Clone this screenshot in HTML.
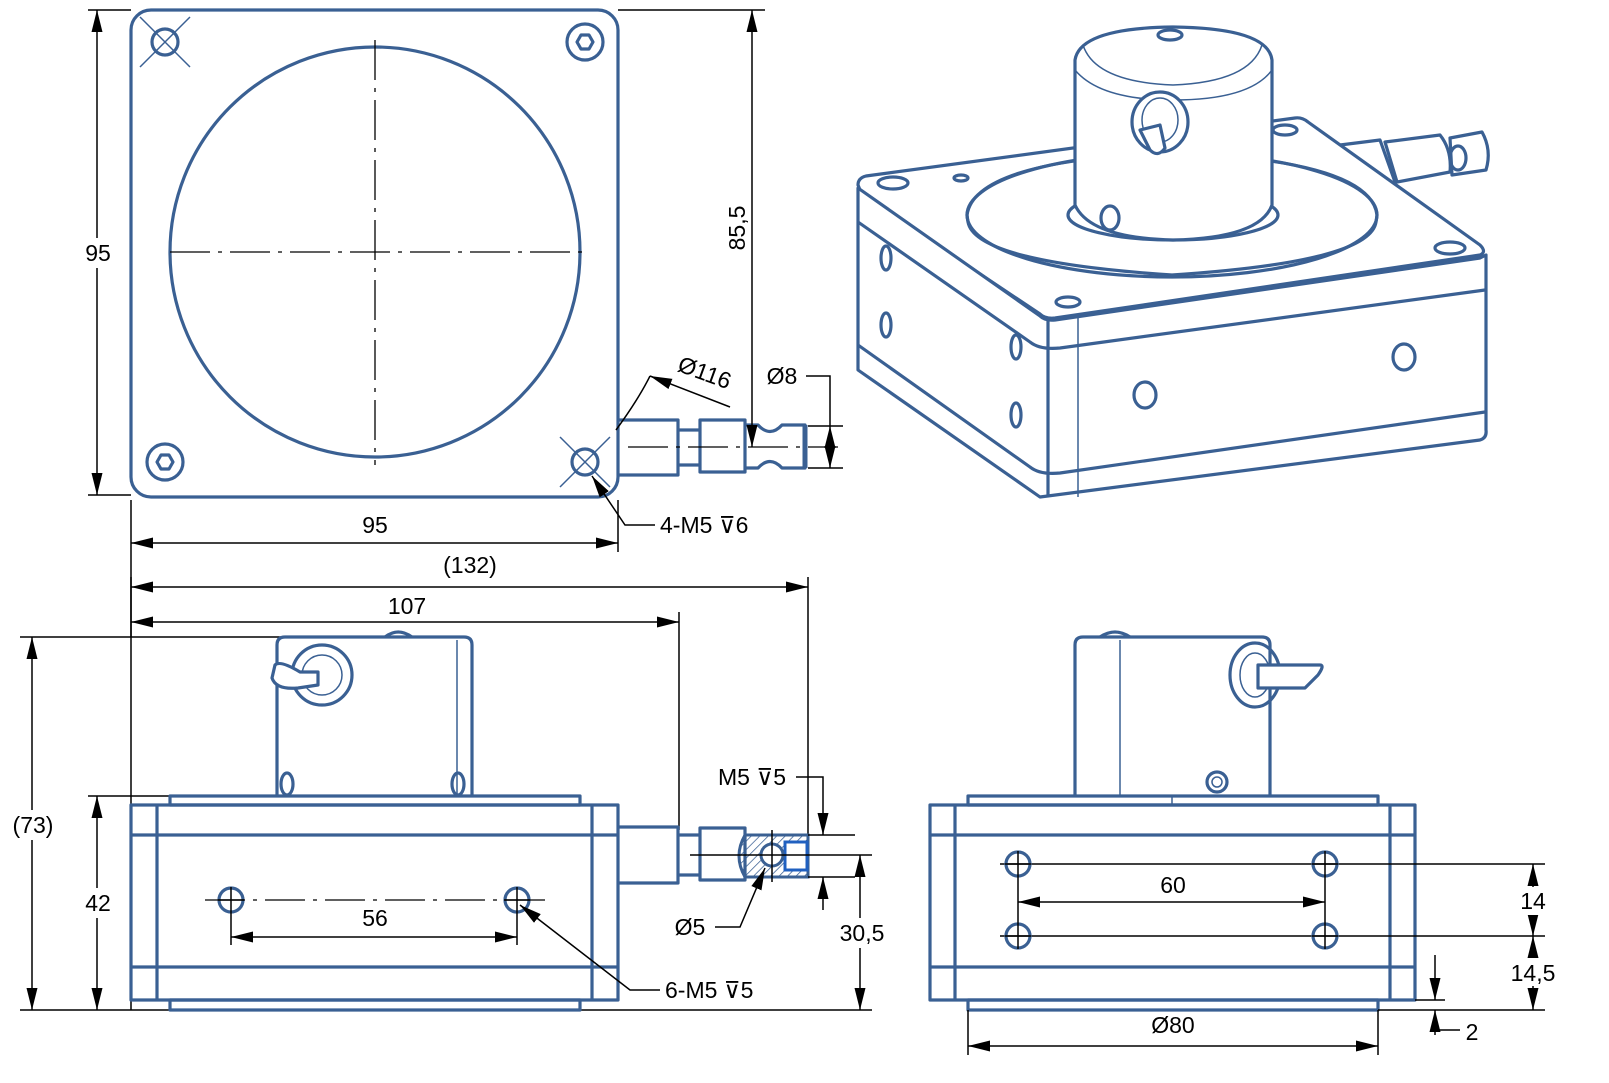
<!DOCTYPE html>
<html><head><meta charset="utf-8"><style>
html,body{margin:0;padding:0;background:#fff;}
svg{display:block;}
text{font-family:"Liberation Sans",sans-serif;font-size:23px;fill:#000;}
.b{fill:none;stroke:#3a6093;stroke-width:3.2;stroke-linejoin:round;}
.w{fill:#fff;stroke:#3a6093;stroke-width:3.2;stroke-linejoin:round;}
.bt{fill:none;stroke:#3a6093;stroke-width:1.5;}
.d{fill:none;stroke:#000;stroke-width:1.5;}
.c{fill:none;stroke:#000;stroke-width:1.3;stroke-dasharray:40 8 4 8;}
</style></head><body>
<svg width="1609" height="1083" viewBox="0 0 1609 1083" xmlns="http://www.w3.org/2000/svg">
<defs>
<marker id="a" viewBox="0 0 20 10" refX="20" refY="5" markerWidth="22" markerHeight="11" markerUnits="userSpaceOnUse" orient="auto-start-reverse"><path d="M0,0 L20,5 L0,10 z" fill="#000"/></marker>
<pattern id="h" width="6" height="6" patternUnits="userSpaceOnUse" patternTransform="rotate(45)"><line x1="0" y1="0" x2="0" y2="6" stroke="#3a6093" stroke-width="1.5"/></pattern>
</defs>

<!-- ============ TOP LEFT VIEW ============ -->
<rect class="b" x="131" y="10" width="487" height="487" rx="20"/>
<circle class="b" cx="375" cy="252" r="205"/>
<line class="c" x1="170" y1="252" x2="590" y2="252"/>
<line class="c" x1="375" y1="40" x2="375" y2="465"/>
<circle class="b" cx="165" cy="42" r="13"/>
<path class="bt" d="M140,17 L190,67 M190,17 L140,67 M158,35 L172,49 M172,35 L158,49"/>
<circle class="b" cx="585" cy="42" r="18"/><polygon class="b" points="577,42 581,35 589,35 593,42 589,49 581,49"/>
<circle class="b" cx="165" cy="462" r="18"/><polygon class="b" points="157,462 161,455 169,455 173,462 169,469 161,469"/>
<circle class="b" cx="585" cy="462" r="13"/>
<path class="bt" d="M560,437 L610,487 M610,437 L560,487 M578,455 L592,469 M592,455 L578,469"/>
<path class="b" d="M618,420 H678 V475 H618 M678,430 H700 M678,465 H700 M700,420 H745 V472 H700 Z M745,425 H758 Q770,438 782,425 H805 V468 H782 Q770,455 758,468 H745"/>
<line x1="805" y1="425" x2="805" y2="468" stroke="#3a6093" stroke-width="5"/>
<line class="c" x1="628" y1="447" x2="838" y2="447"/>
<line class="d" x1="88" y1="10" x2="131" y2="10"/><line class="d" x1="88" y1="495" x2="131" y2="495"/>
<line class="d" x1="97" y1="10" x2="97" y2="495" marker-start="url(#a)" marker-end="url(#a)"/>
<rect x="82" y="238" width="32" height="30" fill="#fff"/><text x="98" y="261" text-anchor="middle">95</text>
<line class="d" x1="131" y1="500" x2="131" y2="1010"/><line class="d" x1="618" y1="500" x2="618" y2="552"/>
<line class="d" x1="131" y1="543" x2="618" y2="543" marker-start="url(#a)" marker-end="url(#a)"/>
<text x="375" y="533" text-anchor="middle">95</text>
<line class="d" x1="618" y1="10" x2="765" y2="10"/>
<line class="d" x1="752" y1="10" x2="752" y2="447" marker-start="url(#a)" marker-end="url(#a)"/>
<text transform="translate(745,228) rotate(-90)" text-anchor="middle">85,5</text>
<line class="d" x1="808" y1="426" x2="843" y2="426"/><line class="d" x1="808" y1="468" x2="843" y2="468"/>
<line class="d" x1="830" y1="426" x2="830" y2="468" marker-start="url(#a)" marker-end="url(#a)"/>
<path class="d" d="M806,376 H830 V426"/>
<text x="782" y="384" text-anchor="middle">Ø8</text>
<path class="d" d="M616,430 Q638,400 650,376"/>
<line class="d" x1="730" y1="407" x2="650" y2="376" marker-end="url(#a)"/>
<text transform="translate(702,380) rotate(20)" text-anchor="middle">Ø116</text>
<path class="d" d="M655,525 H625 L592,476" marker-end="url(#a)"/>
<text x="660" y="533">4-M5 ⊽6</text>

<!-- ============ 3D VIEW ============ -->
<g>
<!-- connector (behind) -->
<path class="w" d="M1340,145 L1380,140 L1395,182 L1360,192 Z"/>
<path class="w" d="M1385,142 L1440,135 Q1452,150 1450,172 L1397,182 Z"/>
<path class="w" d="M1450,138 L1482,132 Q1492,150 1486,170 L1452,175 Z"/>
<ellipse class="b" cx="1458" cy="158" rx="8" ry="12"/>
<path class="w" d="M858,185 Q858,178 866,176 L1295,118 Q1302,117 1308,122 L1480,245 Q1487,252 1480,255 L1055,318 Q1045,319 1040,314 L862,195 Z"/>
<path class="w" d="M858,188 V370 L1040,497 L1480,440 Q1487,438 1486,430 V255 L1480,258 L1055,320 Q1045,321 1040,316 L858,188 Z"/>
<path class="b" d="M1048,318 V497"/>
<line class="bt" x1="1078" y1="316" x2="1078" y2="497"/>
<path class="b" d="M858,222 L1030,342 Q1040,350 1060,348 L1485,290"/>
<path class="b" d="M858,345 L1030,467 Q1040,475 1060,473 L1485,412"/>
<path class="w" d="M968,222 Q975,262 1172,275 Q1370,262 1376,222 L1377,215 Q1370,160 1172,153 Q975,160 967,215 Z"/>
<ellipse class="b" cx="1172" cy="215" rx="205" ry="62"/>
<ellipse class="b" cx="1173" cy="215" rx="105" ry="25"/>
<path class="w" d="M1075,60 V205 Q1090,238 1173,240 Q1260,238 1272,205 V60 Q1268,28 1173,27 Q1080,28 1075,60 Z"/>
<path class="bt" d="M1083,45 Q1095,82 1173,85 Q1250,82 1262,45"/>
<path class="bt" d="M1075,70 Q1100,100 1173,100 Q1250,100 1272,70"/>
<ellipse class="b" cx="1170" cy="35" rx="12" ry="5"/>
<ellipse class="w" cx="1160" cy="122" rx="28" ry="30"/>
<ellipse class="bt" cx="1160" cy="120" rx="18" ry="22"/>
<path class="w" d="M1140,130 L1150,150 Q1158,158 1165,148 L1160,125 Z"/>
<ellipse class="b" cx="1110" cy="218" rx="9" ry="12"/>
<ellipse class="b" cx="893" cy="183" rx="15" ry="6"/>
<ellipse class="b" cx="961" cy="178" rx="7" ry="3"/>
<ellipse class="b" cx="1068" cy="302" rx="12" ry="5"/>
<ellipse class="b" cx="1450" cy="248" rx="15" ry="6"/>
<ellipse class="b" cx="1285" cy="130" rx="12" ry="5"/>
<ellipse class="b" cx="886" cy="258" rx="5" ry="12"/>
<ellipse class="b" cx="886" cy="325" rx="5" ry="12"/>
<ellipse class="b" cx="1016" cy="347" rx="5" ry="12"/>
<ellipse class="b" cx="1016" cy="415" rx="5" ry="12"/>
<ellipse class="b" cx="1145" cy="395" rx="11" ry="13"/>
<ellipse class="b" cx="1404" cy="357" rx="11" ry="13"/>
</g>

<!-- ============ BOTTOM LEFT VIEW ============ -->
<line class="d" x1="131" y1="577" x2="131" y2="637"/>
<line class="d" x1="808" y1="577" x2="808" y2="848"/>
<line class="d" x1="131" y1="587" x2="808" y2="587" marker-start="url(#a)" marker-end="url(#a)"/>
<text x="470" y="573" text-anchor="middle">(132)</text>
<line class="d" x1="679" y1="612" x2="679" y2="830"/>
<line class="d" x1="131" y1="622" x2="679" y2="622" marker-start="url(#a)" marker-end="url(#a)"/>
<text x="407" y="614" text-anchor="middle">107</text>
<line class="d" x1="20" y1="637" x2="290" y2="637"/>
<line class="d" x1="88" y1="796" x2="170" y2="796"/>
<line class="d" x1="20" y1="1010" x2="872" y2="1010"/>
<line class="d" x1="32" y1="637" x2="32" y2="1010" marker-start="url(#a)" marker-end="url(#a)"/>
<rect x="8" y="810" width="50" height="30" fill="#fff"/><text x="33" y="833" text-anchor="middle">(73)</text>
<line class="d" x1="97" y1="796" x2="97" y2="1010" marker-start="url(#a)" marker-end="url(#a)"/>
<rect x="80" y="888" width="34" height="30" fill="#fff"/><text x="98" y="911" text-anchor="middle">42</text>

<rect class="b" x="131" y="805" width="487" height="195"/>
<path class="b" d="M157,805 V1000 M592,805 V1000 M131,835 H618 M131,967 H618"/>
<rect class="b" x="170" y="796" width="410" height="9"/>
<rect class="b" x="170" y="1000" width="410" height="10"/>
<path class="b" d="M277,796 V645 Q277,637 285,637 H464 Q472,637 472,645 V796"/>
<line class="bt" x1="457" y1="640" x2="457" y2="796"/>
<path class="b" d="M385,637 Q398,627 412,637"/>
<circle class="b" cx="322" cy="675" r="30"/><circle class="bt" cx="322" cy="675" r="20"/>
<path class="w" d="M275,665 Q280,660 300,672 L318,672 L318,685 L298,688 Q276,690 272,678 Z"/>
<ellipse class="b" cx="287" cy="784" rx="6" ry="11"/>
<ellipse class="b" cx="458" cy="784" rx="6" ry="11"/>
<circle class="b" cx="231" cy="900" r="12"/><circle class="b" cx="517" cy="900" r="12"/>
<path class="d" d="M218,900 H244 M231,887 V913 M504,900 H530 M517,887 V913"/>
<line class="c" x1="205" y1="900" x2="545" y2="900"/>
<line class="d" x1="231" y1="913" x2="231" y2="945"/><line class="d" x1="517" y1="913" x2="517" y2="945"/>
<line class="d" x1="231" y1="937" x2="517" y2="937" marker-start="url(#a)" marker-end="url(#a)"/>
<text x="375" y="926" text-anchor="middle">56</text>
<path class="d" d="M660,990 H630 L520,905" marker-end="url(#a)"/>
<text x="665" y="998">6-M5 ⊽5</text>
<path class="b" d="M618,827 H678 V883 H618 M678,835 H700 M678,875 H700 M700,828 H745 V880 H700 Z"/>
<path d="M745,835 H808 V877 H745 Q733,856 745,835 Z" fill="url(#h)" stroke="#3a6093" stroke-width="3"/>
<rect x="785" y="842" width="22" height="28" fill="#fff" stroke="#2060c0" stroke-width="3"/>
<circle cx="772" cy="855" r="11" fill="#fff" stroke="#3a6093" stroke-width="3"/>
<line class="d" x1="772" y1="830" x2="772" y2="882"/>
<line class="d" x1="690" y1="855" x2="872" y2="855"/>
<line class="d" x1="808" y1="835" x2="855" y2="835"/><line class="d" x1="808" y1="877" x2="855" y2="877"/>
<path class="d" d="M796,777 H823 V835" marker-end="url(#a)"/>
<line class="d" x1="823" y1="910" x2="823" y2="877" marker-end="url(#a)"/>
<text x="752" y="785" text-anchor="middle">M5 ⊽5</text>
<line class="d" x1="860" y1="855" x2="860" y2="1010" marker-start="url(#a)" marker-end="url(#a)"/>
<rect x="835" y="918" width="54" height="30" fill="#fff"/><text x="862" y="941" text-anchor="middle">30,5</text>
<path class="d" d="M715,927 H740 L765,868" marker-end="url(#a)"/>
<text x="690" y="935" text-anchor="middle">Ø5</text>

<!-- ============ BOTTOM RIGHT VIEW ============ -->
<rect class="b" x="930" y="805" width="485" height="195"/>
<path class="b" d="M955,805 V1000 M1390,805 V1000 M930,835 H1415 M930,967 H1415"/>
<rect class="b" x="968" y="796" width="410" height="9"/>
<rect class="b" x="968" y="1000" width="410" height="10"/>
<line class="bt" x1="1172" y1="796" x2="1172" y2="805"/>
<path class="b" d="M1075,796 V645 Q1075,637 1083,637 H1262 Q1270,637 1270,645 V796"/>
<line class="bt" x1="1120" y1="640" x2="1120" y2="796"/>
<path class="b" d="M1100,637 Q1115,627 1130,637"/>
<ellipse class="b" cx="1255" cy="675" rx="25" ry="32"/><ellipse class="bt" cx="1255" cy="675" rx="15" ry="22"/>
<path class="w" d="M1258,665 H1320 Q1325,665 1318,675 L1305,688 H1258 Z"/>
<circle class="b" cx="1217" cy="782" r="10"/><circle class="bt" cx="1217" cy="782" r="5"/>
<line class="d" x1="1000" y1="864" x2="1545" y2="864"/>
<line class="d" x1="1000" y1="936" x2="1545" y2="936"/>
<rect x="1040" y="860" width="110" height="8" fill="#fff"/><rect x="1195" y="860" width="110" height="8" fill="#fff"/>
<rect x="1040" y="932" width="110" height="8" fill="#fff"/><rect x="1195" y="932" width="110" height="8" fill="#fff"/>
<line class="d" x1="1040" y1="864" x2="1150" y2="864"/><line class="d" x1="1195" y1="864" x2="1305" y2="864"/>
<line class="d" x1="1040" y1="936" x2="1150" y2="936"/><line class="d" x1="1195" y1="936" x2="1305" y2="936"/>
<circle class="b" cx="1018" cy="864" r="12"/><circle class="b" cx="1325" cy="864" r="12"/>
<circle class="b" cx="1018" cy="936" r="12"/><circle class="b" cx="1325" cy="936" r="12"/>
<path class="d" d="M1018,851 V949 M1325,851 V949 M1005,864 H1031 M1312,864 H1338 M1005,936 H1031 M1312,936 H1338"/>
<line class="d" x1="1018" y1="902" x2="1325" y2="902" marker-start="url(#a)" marker-end="url(#a)"/>
<text x="1173" y="893" text-anchor="middle">60</text>
<line class="d" x1="1378" y1="1010" x2="1545" y2="1010"/>
<line class="d" x1="1415" y1="1000" x2="1445" y2="1000"/>
<line class="d" x1="1533" y1="864" x2="1533" y2="936" marker-start="url(#a)" marker-end="url(#a)"/>
<line class="d" x1="1533" y1="936" x2="1533" y2="1010" marker-start="url(#a)" marker-end="url(#a)"/>
<rect x="1515" y="887" width="38" height="28" fill="#fff"/><text x="1533" y="909" text-anchor="middle">14</text>
<rect x="1506" y="958" width="56" height="28" fill="#fff"/><text x="1533" y="981" text-anchor="middle">14,5</text>
<line class="d" x1="1435" y1="955" x2="1435" y2="1000" marker-end="url(#a)"/>
<line class="d" x1="1435" y1="1035" x2="1435" y2="1010" marker-end="url(#a)"/>
<line class="d" x1="1435" y1="1030" x2="1460" y2="1030"/>
<text x="1472" y="1040" text-anchor="middle">2</text>
<line class="d" x1="968" y1="1010" x2="968" y2="1055"/><line class="d" x1="1378" y1="1010" x2="1378" y2="1055"/>
<line class="d" x1="968" y1="1046" x2="1378" y2="1046" marker-start="url(#a)" marker-end="url(#a)"/>
<text x="1173" y="1033" text-anchor="middle">Ø80</text>
</svg>
</body></html>
